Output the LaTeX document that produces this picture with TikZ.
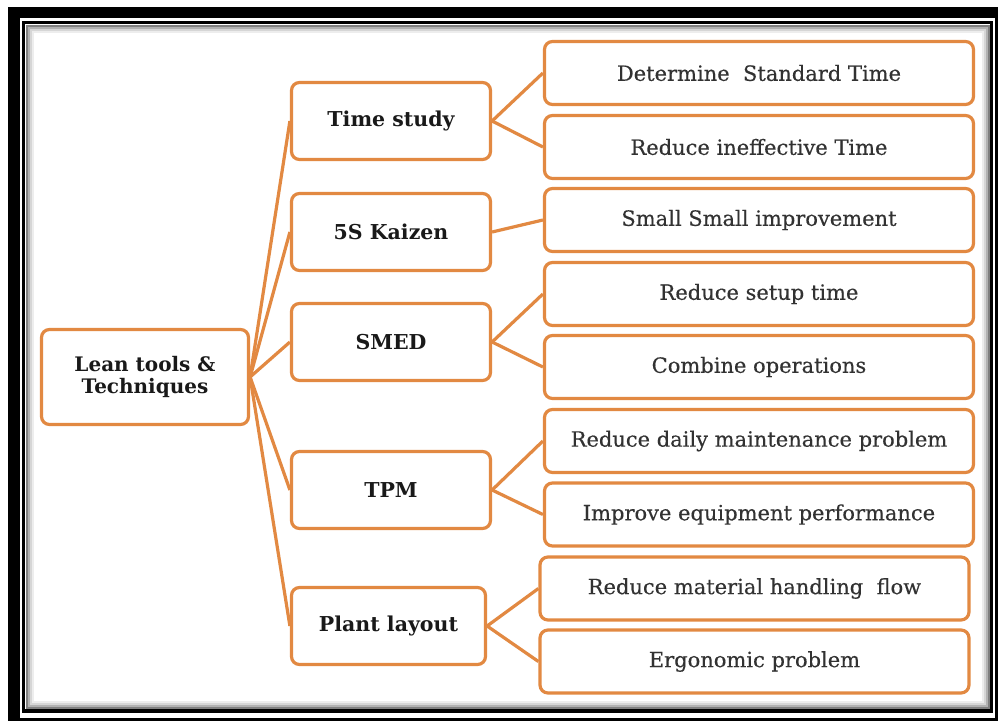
\documentclass[tikz,border=0pt]{standalone}
\usepackage{fontspec}
\setmainfont{DejaVu Serif}
\newfontfamily\semibfont[FakeBold=0.35]{DejaVu Serif}
\definecolor{leanorange}{RGB}{226,137,66}
\definecolor{txtdark}{RGB}{25,25,25}
\definecolor{txtgray}{RGB}{50,50,50}
\begin{document}
\begin{tikzpicture}[x=1pt,y=-1pt,
  box/.style={draw=leanorange, line width=3.2pt, rounded corners=8pt, fill=white, inner sep=0pt, align=center},
  rootbox/.style={box, minimum width=207pt, minimum height=95pt, text=txtdark, font=\bfseries\fontsize{20}{22}\selectfont},
  lonebox/.style={box, minimum width=199pt, minimum height=77pt, text=txtdark, font=\bfseries\fontsize{20.5}{22}\selectfont},
  ltwobox/.style={box, minimum width=429pt, minimum height=63pt, text=txtgray, font=\semibfont\fontsize{21}{24}\selectfont},
  link/.style={draw=leanorange, line width=3.2pt}
]
\useasboundingbox (0,0) rectangle (998,721);
% frame
\fill[black] (8,7) rectangle (998,721);
\fill[white] (19.5,17.5) rectangle (995,717.5);
\draw[black, line width=3.5pt] (23.5,22.5) rectangle (991.5,711);
\draw[black!50, line width=2pt] (26.5,25.5) rectangle (988.5,708);
\draw[black!30, line width=2pt] (28.5,27.5) rectangle (986.5,706);
\draw[black!16, line width=2pt] (30.5,29.5) rectangle (984.5,704);
\draw[black!7, line width=2pt] (32.5,31.5) rectangle (982.5,702);

% nodes
\node[rootbox] (root) at (145,377) {Lean tools \&\\Techniques};

\node[lonebox] (ts)   at (391,121) {Time study};
\node[lonebox] (ks)   at (391,232) {5S Kaizen};
\node[lonebox] (smed) at (391,342) {SMED};
\node[lonebox] (tpm)  at (391,490) {TPM};
\node[lonebox, minimum width=194pt] (pl) at (388.5,626) {Plant layout};

\node[ltwobox] (a1) at (759,73)    {Determine\ \ Standard Time};
\node[ltwobox] (a2) at (759,147)   {Reduce ineffective Time};
\node[ltwobox] (b1) at (759,220)   {Small Small improvement};
\node[ltwobox] (c1) at (759,294)   {Reduce setup time};
\node[ltwobox] (c2) at (759,367)   {Combine operations};
\node[ltwobox] (d1) at (759,441)   {Reduce daily maintenance problem};
\node[ltwobox] (d2) at (759,514.5) {Improve equipment performance};
\node[ltwobox] (e1) at (754.5,588.5) {Reduce material handling\ \ flow};
\node[ltwobox] (e2) at (754.5,661.5) {Ergonomic problem};

% connectors
\foreach \n in {ts,ks,smed,tpm,pl} \draw[link] (root.east) -- (\n.west);
\draw[link] (ts.east) -- (a1.west);
\draw[link] (ts.east) -- (a2.west);
\draw[link] (ks.east) -- (b1.west);
\draw[link] (smed.east) -- (c1.west);
\draw[link] (smed.east) -- (c2.west);
\draw[link] (tpm.east) -- (d1.west);
\draw[link] (tpm.east) -- (d2.west);
\draw[link] (pl.east) -- (e1.west);
\draw[link] (pl.east) -- (e2.west);
\end{tikzpicture}
\end{document}
